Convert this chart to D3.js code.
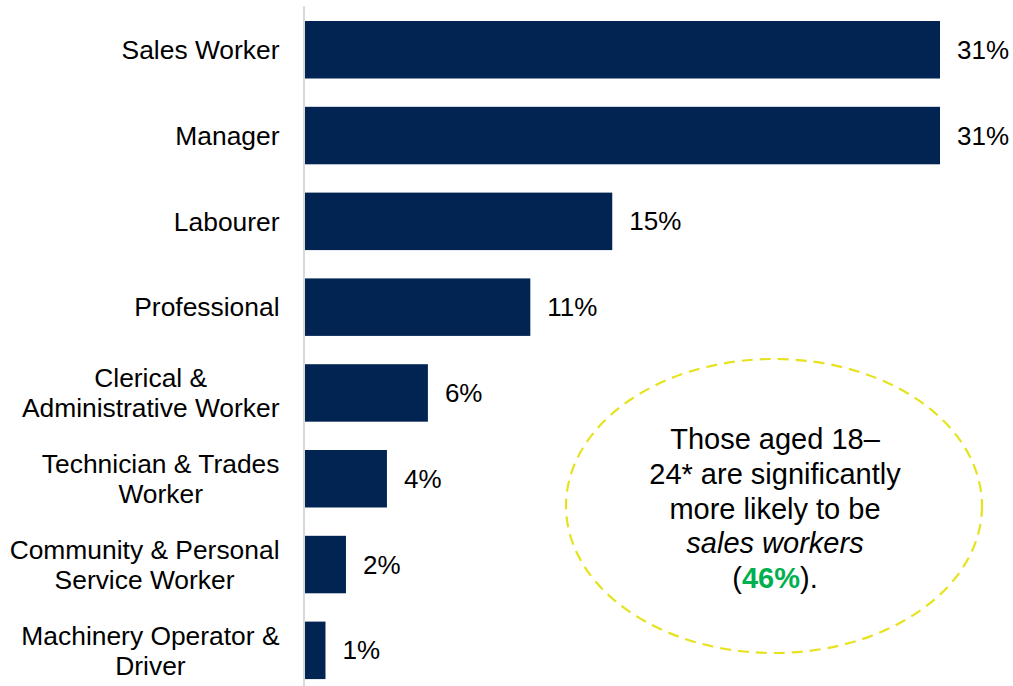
<!DOCTYPE html>
<html><head><meta charset="utf-8">
<script src="https://cdn.jsdelivr.net/npm/d3@7"></script>
<style>html,body{margin:0;padding:0;background:#fff;}svg{display:block;}</style>
</head><body>
<svg id="chart" width="1013" height="686"></svg>
<script>
const categories = [
  ["Sales Worker"],
  ["Manager"],
  ["Labourer"],
  ["Professional"],
  ["Clerical &", "Administrative Worker"],
  ["Technician & Trades", "Worker"],
  ["Community & Personal", "Service Worker"],
  ["Machinery Operator &", "Driver"]
];
const values = [31, 31, 15, 11, 6, 4, 2, 1];
const valueLabels = ["31%", "31%", "15%", "11%", "6%", "4%", "2%", "1%"];
const calloutLines = ["Those aged 18–", "24* are significantly", "more likely to be"];

const svg = d3.select("#chart");
const ids = categories.map((d, i) => i);

const x = d3.scaleLinear().domain([0, 31]).range([305, 940]);
const y = d3.scaleBand().domain(ids).range([6.6, 693.5]).paddingInner(0.33).paddingOuter(0.168);

// axis line
svg.append("line").attr("x1", 304).attr("x2", 304).attr("y1", 6).attr("y2", 686)
  .attr("stroke", "#d9d9d9").attr("stroke-width", 2);

// bars
svg.selectAll("rect.bar").data(values).join("rect").attr("class", "bar")
  .attr("x", x(0)).attr("y", (d, i) => y(i))
  .attr("width", d => x(d) - x(0)).attr("height", y.bandwidth())
  .attr("fill", "#012453");

// value labels
svg.selectAll("text.val").data(values).join("text").attr("class", "val")
  .attr("x", d => x(d) + 17).attr("y", (d, i) => y(i) + y.bandwidth() / 2)
  .attr("dy", "0.35em")
  .attr("font-family", "Liberation Sans, Arial, sans-serif").attr("font-size", 26)
  .attr("fill", "#000").text((d, i) => valueLabels[i]);

// category labels
const lab = svg.selectAll("text.cat").data(categories).join("text").attr("class", "cat")
  .attr("font-family", "Liberation Sans, Arial, sans-serif").attr("font-size", 26.4)
  .attr("fill", "#000").attr("text-anchor", "middle");
lab.each(function(lines, i) {
  const cy = y(i) + y.bandwidth() / 2;
  const lh = 30;
  const t = d3.select(this);
  lines.forEach((l, j) => {
    t.append("tspan").attr("y", cy + (j - (lines.length - 1) / 2) * lh).attr("dy", "0.35em").text(l);
  });
  const widths = [];
  t.selectAll("tspan").each(function() { widths.push(this.getComputedTextLength()); });
  const maxW = d3.max(widths);
  const cx = 279.5 - maxW / 2;
  t.selectAll("tspan").attr("x", cx);
});

// callout ellipse
svg.append("ellipse").attr("cx", 774).attr("cy", 506).attr("rx", 208).attr("ry", 147)
  .attr("fill", "none").attr("stroke", "#e6e21e").attr("stroke-width", 2.2)
  .attr("stroke-dasharray", "11,7");

const ct = svg.append("text").attr("text-anchor", "middle")
  .attr("font-family", "Liberation Sans, Arial, sans-serif").attr("font-size", 29).attr("fill", "#000");
const lh2 = 34.7, y0 = 439;
calloutLines.forEach((l, j) => {
  ct.append("tspan").attr("x", 775).attr("y", y0 + j * lh2).attr("dy", "0.35em").text(l);
});
ct.append("tspan").attr("x", 775).attr("y", y0 + 3 * lh2).attr("dy", "0.35em")
  .attr("font-style", "italic").text("sales workers");
const last = ct.append("tspan").attr("x", 775).attr("y", y0 + 4 * lh2).attr("dy", "0.35em");
last.text("(");
ct.append("tspan").attr("font-weight", "bold").attr("fill", "#00b050").text("46%");
ct.append("tspan").text(").");
</script>
</body></html>
